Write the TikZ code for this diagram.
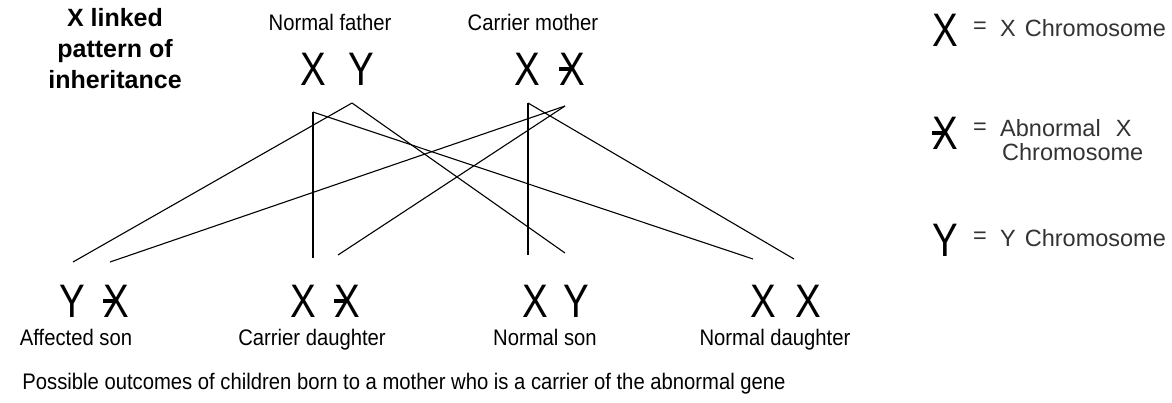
\documentclass[tikz,border=0pt]{standalone}
\usepackage{fontspec}
\setmainfont{Liberation Sans}
\newfontfamily\labelfont[FakeStretch=0.9]{Liberation Sans}
\newfontfamily\chromfont[FakeStretch=0.82]{Liberation Sans}
\usetikzlibrary{positioning}

\begin{document}
\begin{tikzpicture}[
    x=1pt, y=-1pt,
    chrom/.style={inner sep=0pt, font=\chromfont\fontsize{47}{47}\selectfont},
    lbl/.style={inner sep=0pt, anchor=base, font=\labelfont\fontsize{22.5}{26}\selectfont},
    legtext/.style={inner sep=0pt, anchor=west, align=left, text=black!80, font=\fontsize{23.5}{24}\selectfont},
    link/.style={line width=1.1pt},
    bar/.style={line width=4pt}
]
  \fill[white] (0,0) rectangle (1172,402);
  \useasboundingbox (0,0) rectangle (1172,402);

  % Title
  \node[align=center, inner sep=0pt, font=\bfseries\fontsize{25}{31}\selectfont] (title) at (115,49) {X linked\\pattern of\\inheritance};

  % Parents
  \node[lbl] (flab) at (330,30) {Normal father};
  \node[lbl] (mlab) at (533,30) {Carrier mother};
  \node[chrom] (fx) at (313,69) {X};
  \node[chrom] (fy) at (361,69) {Y};
  \node[chrom] (mx) at (527,69) {X};
  \node[chrom] (mxa) at (572,69) {X};

  % Children
  \node[chrom] (asy) at (72,301) {Y};
  \node[chrom] (asxa) at (116,301) {X};
  \node[chrom] (cdx) at (303,301) {X};
  \node[chrom] (cdxa) at (347,301) {X};
  \node[chrom] (nsx) at (535,301) {X};
  \node[chrom] (nsy) at (576,301) {Y};
  \node[chrom] (ndxa) at (763,301) {X};
  \node[chrom] (ndxb) at (808,301) {X};
  \node[lbl] (aslab) at (76,345) {Affected son};
  \node[lbl] (cdlab) at (312,345) {Carrier daughter};
  \node[lbl] (nslab) at (545,345) {Normal son};
  \node[lbl] (ndlab) at (775,345) {Normal daughter};
  \node[lbl] (outcome) at (404,389) {Possible outcomes of children born to a mother who is a carrier of the abnormal gene};

  % Line ends
  \coordinate (fxp) at (313,112);
  \coordinate (fyp) at (352,103);
  \coordinate (mxp) at (528,103);
  \coordinate (mxap) at (565,106);
  \coordinate (asyp) at (73,262);
  \coordinate (asxap) at (110,262);
  \coordinate (cdxp) at (313,258);
  \coordinate (cdxap) at (338,255);
  \coordinate (nsxp) at (528,255);
  \coordinate (nsyp) at (565,253);
  \coordinate (ndxap) at (753,259);
  \coordinate (ndxbp) at (794,259);
  \foreach \a/\b in {fyp/asyp, fyp/nsyp, fxp/cdxp, fxp/ndxap, mxp/nsxp, mxp/ndxbp, mxap/asxap, mxap/cdxap}
    \draw[link] (\a) -- (\b);

  % Legend
  \node[chrom] (legx) at (945,30) {X};
  \node[chrom] (legxa) at (945,133) {X};
  \node[chrom] (legy) at (945,240) {Y};
  \node[legtext] (eqa) at (973,28) {=};
  \node[legtext] (eqb) at (973,129) {=};
  \node[legtext] (eqc) at (973,238) {=};
  \node[legtext] (legxt) at (1000,28) {X\hspace{9pt}Chromosome};
  \node[legtext] (legxat) at (1000,140) {Abnormal\hspace{15pt}X\\\hspace{2pt}Chromosome};
  \node[legtext] (legyt) at (1000,238) {Y\hspace{9pt}Chromosome};

  % Abnormal marks
  \foreach \n in {mxa, asxa, cdxa, legxa}
    \draw[bar] ([xshift=-13pt]\n.center) -- ([xshift=-1pt]\n.center);
\end{tikzpicture}
\end{document}
